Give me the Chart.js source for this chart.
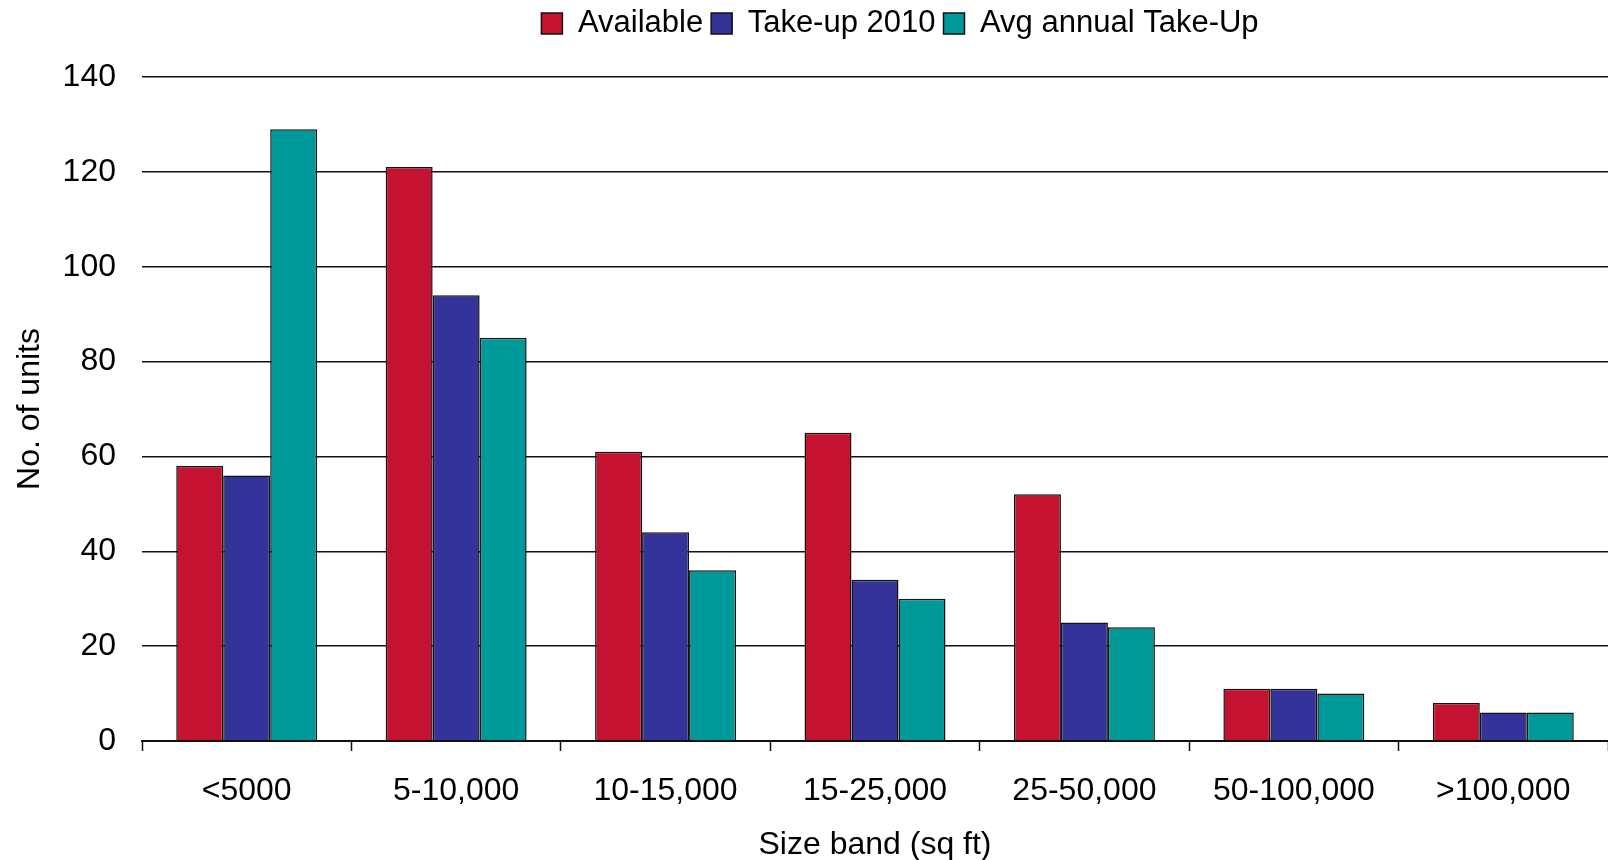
<!DOCTYPE html>
<html>
<head>
<meta charset="utf-8">
<script src="https://cdn.jsdelivr.net/npm/chart.js@4"></script>
<style>
  html, body { margin: 0; padding: 0; background: #ffffff; }
  #wrap { position: relative; width: 1608px; height: 860px; }
</style>
</head>
<body>
<div id="wrap"><canvas id="chart" width="1608" height="860"></canvas></div>
<script>
// Size bands (sq ft) and unit counts per series
const categories = ['<5000', '5-10,000', '10-15,000', '15-25,000', '25-50,000', '50-100,000', '>100,000'];
const available = [58, 121, 61, 65, 52, 11, 8];
const takeUp2010 = [56, 94, 44, 34, 25, 11, 6];
const avgAnnualTakeUp = [129, 85, 36, 30, 24, 10, 6];
const seriesNames = ['Available', 'Take-up 2010', 'Avg annual Take-Up'];
const yTicks = [0, 20, 40, 60, 80, 100, 120, 140];

const FONT = "'Liberation Sans', Arial, sans-serif";

const barStyle = (color) => ({
  backgroundColor: color,
  borderColor: '#111111',
  borderWidth: 1.5,
  borderSkipped: 'bottom',
  barPercentage: 1.0,
  categoryPercentage: 0.673
});

// Leaves extra room under the legend row and nudges the legend a little right
const legendSpacing = {
  id: 'legendSpacing',
  beforeLayout(chart) {
    const lg = chart.legend;
    if (lg && !lg._spaced) {
      const fit = lg.fit;
      lg.fit = function () { fit.call(this); this.height += 28; };
      lg._spaced = true;
    }
  },
  afterLayout(chart) {
    const lg = chart.legend;
    if (lg) { lg.left += 25; lg.right += 25; }
  }
};

new Chart(document.getElementById('chart'), {
  type: 'bar',
  data: {
    labels: categories,
    datasets: [
      Object.assign({ label: seriesNames[0], data: available }, barStyle('#C41230')),
      Object.assign({ label: seriesNames[1], data: takeUp2010 }, barStyle('#333399')),
      Object.assign({ label: seriesNames[2], data: avgAnnualTakeUp }, barStyle('#009999'))
    ]
  },
  plugins: [legendSpacing],
  options: {
    responsive: false,
    animation: false,
    layout: { padding: { top: 0, right: 0, bottom: 0, left: 0 } },
    plugins: {
      tooltip: { enabled: false },
      legend: {
        position: 'top',
        fullSize: false,
        labels: {
          color: '#000000',
          font: { family: FONT, size: 31 },
          boxWidth: 21,
          boxHeight: 21,
          padding: 8
        }
      }
    },
    scales: {
      x: {
        offset: true,
        border: { display: true, color: '#111111', width: 2 },
        grid: {
          offset: true,
          drawOnChartArea: false,
          drawTicks: true,
          tickLength: 10,
          tickWidth: 1.5,
          tickColor: '#111111'
        },
        ticks: {
          color: '#000000',
          font: { family: FONT, size: 32 },
          padding: 21,
          maxRotation: 0,
          autoSkip: false
        },
        title: {
          display: true,
          text: 'Size band (sq ft)',
          color: '#000000',
          font: { family: FONT, size: 32, lineHeight: 0.9 },
          padding: { top: 0, bottom: 0 }
        },
        afterFit: (scale) => { scale.height = 119; }
      },
      y: {
        min: 0,
        max: 140,
        border: { display: false },
        grid: {
          color: '#111111',
          lineWidth: 1.5,
          drawTicks: false
        },
        afterBuildTicks: (scale) => { scale.ticks = yTicks.map(v => ({ value: v })); },
        ticks: {
          color: '#000000',
          font: { family: FONT, size: 32 },
          padding: 26
        },
        title: {
          display: true,
          text: 'No. of units',
          color: '#000000',
          font: { family: FONT, size: 32 },
          padding: { top: 11, bottom: 0 }
        },
        afterFit: (scale) => { scale.width = 142; }
      }
    }
  }
});
</script>
</body>
</html>
